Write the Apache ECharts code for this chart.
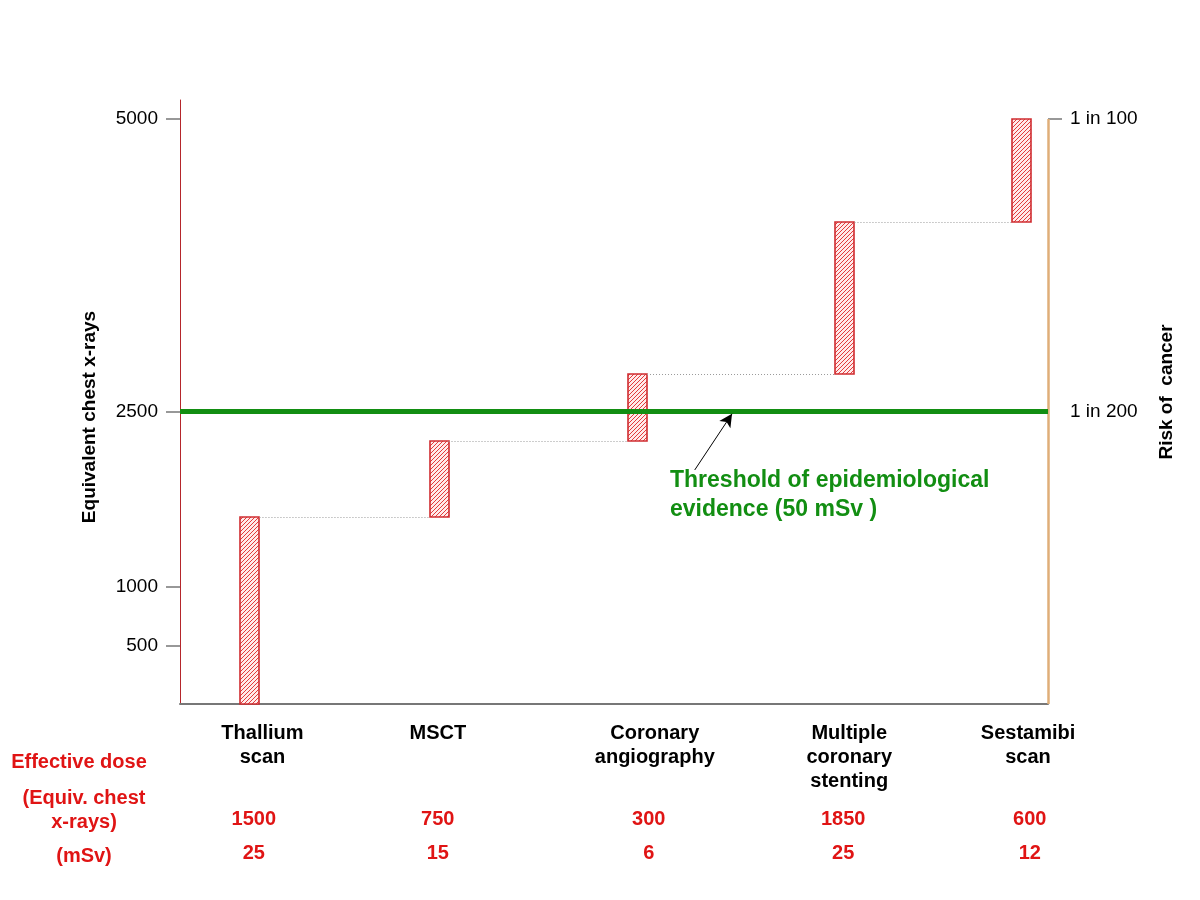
<!DOCTYPE html>
<html>
<head>
<meta charset="utf-8">
<script src="https://cdn.jsdelivr.net/npm/echarts@6/dist/echarts.min.js"></script>
<style>html,body{margin:0;padding:0;background:#fff}#chart{width:1200px;height:900px}</style>
</head>
<body>
<div id="chart"></div>
<script>
// ---- data ----
const categories = ['Thallium\nscan', 'MSCT', 'Coronary\nangiography', 'Multiple\ncoronary\nstenting', 'Sestamibi\nscan'];
const chestXrays = [1500, 750, 300, 1850, 600];
const mSv = [25, 15, 6, 25, 12];
const barLow = [0, 1600, 2250, 2820, 4120];
const barHigh = [1600, 2250, 2820, 4120, 5000];
const leftTicks = [500, 1000, 2500, 5000];
const riskTicks = [2500, 5000];
const riskLabels = ['1 in 200', '1 in 100'];
const threshold = 2500;
const thresholdText = 'Threshold of epidemiological\nevidence (50 mSv )';

// ---- layout (x positions on a hidden 0..100 axis) ----
const barX = [8.06, 29.84, 52.71, 76.61, 97.0];
const labelX = [9.5, 29.7, 54.7, 77.1, 97.7];
const numX = [8.5, 29.7, 54.0, 76.4, 97.9];

const FONT = '"Liberation Sans", Arial, sans-serif';
const RED = '#e01414';
const GREEN = '#128e12';

// hatch pattern (crisp pixel diagonal)
const pc = document.createElement('canvas');
pc.width = 4; pc.height = 4;
const g = pc.getContext('2d');
g.fillStyle = '#ffeaea'; g.fillRect(0, 0, 4, 4);
g.fillStyle = '#e23c3c';
for (let k = 0; k < 4; k++) g.fillRect(k, 3 - k, 1, 1);
const hatch = { image: pc, repeat: 'repeat' };

const seriesData = categories.map((c, i) => [barX[i], barLow[i], barHigh[i], i]);

function renderItem(params, api) {
  const i = api.value(3);
  const x = api.value(0);
  const pLow = api.coord([x, api.value(1)]);
  const pHigh = api.coord([x, api.value(2)]);
  const w = 19;
  const children = [];
  children.push({
    type: 'rect',
    shape: { x: Math.round(pLow[0] - w / 2), y: Math.round(pHigh[1]), width: w, height: Math.round(pLow[1] - pHigh[1]) },
    style: { fill: hatch, stroke: '#d02c30', lineWidth: 1.6 }
  });
  if (i < categories.length - 1) {
    const pNext = api.coord([barX[i + 1], barHigh[i]]);
    children.push({
      type: 'line',
      shape: { x1: pHigh[0] + w / 2, y1: Math.round(pHigh[1]) + 0.5, x2: pNext[0] - w / 2, y2: Math.round(pHigh[1]) + 0.5 },
      style: { stroke: '#9a9a9a', lineWidth: 1, lineDash: [1, 2] }
    });
  }
  const base = api.coord([0, 0])[1];
  const lx = api.coord([labelX[i], 0])[0];
  const nx = api.coord([numX[i], 0])[0];
  children.push({
    type: 'text',
    style: { text: categories[i], x: lx, y: base + 17, align: 'center', verticalAlign: 'top',
      fill: '#000', font: 'bold 20px ' + FONT, lineHeight: 24 }
  });
  children.push({
    type: 'text',
    style: { text: String(chestXrays[i]), x: nx, y: base + 115, align: 'center', verticalAlign: 'middle',
      fill: RED, font: 'bold 20px ' + FONT }
  });
  children.push({
    type: 'text',
    style: { text: String(mSv[i]), x: nx, y: base + 149, align: 'center', verticalAlign: 'middle',
      fill: RED, font: 'bold 20px ' + FONT }
  });
  return { type: 'group', children };
}

const chart = echarts.init(document.getElementById('chart'), null, { renderer: 'canvas' });
const YMAX = 5162;
chart.setOption({
  backgroundColor: '#fff',
  animation: false,
  grid: { left: 180, right: 152, top: 100, bottom: 196 },
  xAxis: {
    type: 'value', min: 0, max: 100,
    axisLine: { show: true, onZero: false, lineStyle: { color: '#777', width: 2 } },
    axisTick: { show: false }, axisLabel: { show: false }, splitLine: { show: false }
  },
  yAxis: [
    {
      type: 'value', min: 0, max: YMAX, position: 'left',
      axisLine: { show: true, lineStyle: { color: '#b5262b', width: 1 } },
      axisTick: { show: true, customValues: leftTicks, length: 14, lineStyle: { color: '#777', width: 1.5 } },
      axisLabel: { customValues: leftTicks, margin: 22, color: '#000', fontSize: 19, fontFamily: FONT,
        formatter: v => String(v) },
      splitLine: { show: false }
    },
    {
      type: 'value', min: 0, max: YMAX, position: 'right',
      axisLine: { show: false },
      axisTick: { show: true, customValues: [5000], length: 14, lineStyle: { color: '#777', width: 1.5 } },
      axisLabel: {
        customValues: riskTicks, margin: 22, color: '#000', fontSize: 19, fontFamily: FONT,
        formatter: v => riskLabels[riskTicks.indexOf(v)] || ''
      },
      splitLine: { show: false }
    }
  ],
  graphic: [
    { type: 'text', x: 90, y: 417, rotation: Math.PI / 2,
      style: { text: 'Equivalent chest x-rays', align: 'center', verticalAlign: 'middle', fill: '#000', font: 'bold 19px ' + FONT } },
    { type: 'text', x: 1167, y: 392, rotation: Math.PI / 2,
      style: { text: 'Risk of  cancer', align: 'center', verticalAlign: 'middle', fill: '#000', font: 'bold 19px ' + FONT } },
    { type: 'text', x: 79, y: 762,
      style: { text: 'Effective dose', align: 'center', verticalAlign: 'middle', fill: RED, font: 'bold 20px ' + FONT } },
    { type: 'text', x: 84, y: 810,
      style: { text: '(Equiv. chest\nx-rays)', align: 'center', verticalAlign: 'middle', fill: RED, font: 'bold 20px ' + FONT, lineHeight: 24 } },
    { type: 'text', x: 84, y: 856,
      style: { text: '(mSv)', align: 'center', verticalAlign: 'middle', fill: RED, font: 'bold 20px ' + FONT } },
    { type: 'text', x: 670, y: 495,
      style: { text: thresholdText, align: 'left', verticalAlign: 'middle', fill: GREEN, font: 'bold 23px ' + FONT, lineHeight: 29 } }
  ],
  series: [
    {
      type: 'custom', renderItem, data: seriesData, silent: true, z: 3,
      encode: { x: 0, y: [1, 2] }
    },
    {
      type: 'line', data: [], silent: true, z: 2,
      markLine: {
        silent: true, animation: false, label: { show: false },
        data: [
          [{ coord: [100, 0], symbol: 'none', lineStyle: { color: '#dfae78', width: 2.5, type: 'solid' } },
           { coord: [100, 5000], symbol: 'none' }]
        ]
      }
    },
    {
      type: 'line', data: [], silent: true, z: 4,
      markLine: {
        silent: true, animation: false, label: { show: false }, symbol: 'none',
        data: [
          { yAxis: threshold, lineStyle: { color: GREEN, width: 5, type: 'solid' } }
        ]
      }
    },
    {
      type: 'line', data: [], silent: true, z: 5,
      markLine: {
        silent: true, animation: false, label: { show: false },
        symbol: ['none', 'arrow'], symbolSize: [10, 13],
        data: [
          [{ coord: [59.3, 2000], lineStyle: { color: '#000', width: 1, type: 'solid' } },
           { coord: [63.6, 2480] }]
        ]
      }
    }
  ]
});
</script>
</body>
</html>
